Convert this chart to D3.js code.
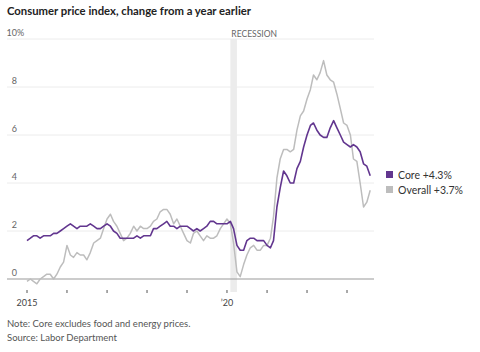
<!DOCTYPE html>
<html>
<head>
<meta charset="utf-8">
<script src="https://cdn.jsdelivr.net/npm/d3@7"></script>
<style>
  body { margin: 0; background: #fff; }
  svg { display: block; font-family: Lato, "Noto Sans", sans-serif; }
</style>
</head>
<body>
<svg id="chart" width="480" height="352"></svg>
<script>
// monthly, Jan 2015 .. Aug 2023 (year-over-year % change)
const startMonth = new Date(2015, 0, 1);

const overall = [
  -0.1, 0.0, -0.1, -0.2, 0.0, 0.1, 0.2, 0.2, 0.0, 0.2, 0.5, 0.7,
  1.4, 1.0, 0.9, 1.1, 1.0, 1.0, 0.8, 1.1, 1.5, 1.6, 1.7, 2.1,
  2.5, 2.7, 2.4, 2.2, 1.9, 1.6, 1.7, 1.9, 2.2, 2.0, 2.2, 2.1,
  2.1, 2.2, 2.4, 2.5, 2.8, 2.9, 2.9, 2.7, 2.3, 2.5, 2.2, 1.9,
  1.6, 1.5, 1.9, 2.0, 1.8, 1.6, 1.8, 1.7, 1.7, 1.8, 2.1, 2.3,
  2.5, 2.3, 1.5, 0.3, 0.1, 0.6, 1.0, 1.3, 1.4, 1.2, 1.2, 1.4,
  1.4, 1.7, 2.6, 4.2, 5.0, 5.4, 5.4, 5.3, 5.4, 6.2, 6.8, 7.0,
  7.5, 7.9, 8.5, 8.3, 8.6, 9.1, 8.5, 8.3, 8.2, 7.7, 7.1, 6.5,
  6.4, 6.0, 5.0, 4.9, 4.0, 3.0, 3.2, 3.7
];

const core = [
  1.6, 1.7, 1.8, 1.8, 1.7, 1.8, 1.8, 1.8, 1.9, 1.9, 2.0, 2.1,
  2.2, 2.3, 2.2, 2.1, 2.2, 2.2, 2.2, 2.3, 2.2, 2.1, 2.1, 2.2,
  2.3, 2.2, 2.0, 1.9, 1.7, 1.7, 1.7, 1.7, 1.7, 1.8, 1.7, 1.8,
  1.8, 1.8, 2.1, 2.1, 2.2, 2.3, 2.4, 2.2, 2.2, 2.1, 2.2, 2.2,
  2.2, 2.1, 2.0, 2.1, 2.0, 2.1, 2.2, 2.4, 2.4, 2.3, 2.3, 2.3,
  2.3, 2.4, 2.1, 1.4, 1.2, 1.2, 1.6, 1.7, 1.7, 1.6, 1.6, 1.6,
  1.4, 1.3, 1.6, 3.0, 3.8, 4.5, 4.3, 4.0, 4.0, 4.6, 4.9, 5.5,
  6.0, 6.4, 6.5, 6.2, 6.0, 5.9, 5.9, 6.3, 6.6, 6.3, 6.0, 5.7,
  5.6, 5.5, 5.6, 5.5, 5.3, 4.8, 4.7, 4.3
];

const yTicks = [0, 2, 4, 6, 8, 10];
const xTickYears = [2015, 2016, 2017, 2018, 2019, 2020, 2021, 2022, 2023];
const xTickLabels = { 2015: '2015', 2020: '\u201920' };
const recession = [new Date(2020, 1, 1), new Date(2020, 3, 1)];
const legendItems = [
  { name: 'Core +4.3%', color: '#62368f' },
  { name: 'Overall +3.7%', color: '#bdbdbd' }
];

const svg = d3.select('#chart');

const x = d3.scaleTime()
  .domain([new Date(2015, 0, 1), new Date(2023, 0, 1)])
  .range([27, 347]);
const y = d3.scaleLinear().domain([0, 10]).range([279, 39]);

const months = overall.map((_, i) => d3.timeMonth.offset(startMonth, i));

// title
svg.append('text')
  .attr('x', 7).attr('y', 15)
  .attr('font-size', 11.3).attr('font-weight', 700).attr('fill', '#222')
  .text('Consumer price index, change from a year earlier');

// recession band
svg.append('rect')
  .attr('x', x(recession[0]))
  .attr('y', y(10))
  .attr('width', x(recession[1]) - x(recession[0]))
  .attr('height', 292 - y(10))
  .attr('fill', '#ececec');

svg.append('text')
  .attr('x', x(recession[0]) + 1).attr('y', 37)
  .attr('font-size', 8.5).attr('fill', '#666')
  .text('RECESSION');

// gridlines
svg.append('g')
  .selectAll('line')
  .data(yTicks)
  .join('line')
  .attr('x1', 7).attr('x2', 374)
  .attr('y1', (d) => y(d)).attr('y2', (d) => y(d))
  .attr('stroke', (d) => (d === 0 ? '#9a9a9a' : '#ececec'))
  .attr('stroke-width', (d) => (d === 0 ? 1.2 : 1));

svg.append('g')
  .selectAll('text')
  .data(yTicks)
  .join('text')
  .attr('x', 17).attr('y', (d) => y(d) - 3)
  .attr('text-anchor', 'end')
  .attr('font-size', 9).attr('fill', '#666')
  .text((d) => d);
svg.append('text')
  .attr('x', 17).attr('y', y(10) - 3)
  .attr('font-size', 9).attr('fill', '#666')
  .text('%');

// x ticks
const xt = svg.append('g');
xt.selectAll('line')
  .data(xTickYears)
  .join('line')
  .attr('x1', (d) => x(new Date(d, 0, 1)))
  .attr('x2', (d) => x(new Date(d, 0, 1)))
  .attr('y1', 290).attr('y2', 293)
  .attr('stroke', '#555');
xt.selectAll('text')
  .data(xTickYears.filter((d) => xTickLabels[d]))
  .join('text')
  .attr('x', (d) => x(new Date(d, 0, 1)))
  .attr('y', 306)
  .attr('text-anchor', 'middle')
  .attr('font-size', 9).attr('fill', '#444')
  .text((d) => xTickLabels[d]);

// lines
const line = d3.line()
  .x((d, i) => x(months[i]))
  .y((d) => y(d));

svg.append('path')
  .attr('d', line(overall))
  .attr('fill', 'none')
  .attr('stroke', legendItems[1].color)
  .attr('stroke-width', 1.5)
  .attr('stroke-linejoin', 'round');

svg.append('path')
  .attr('d', line(core))
  .attr('fill', 'none')
  .attr('stroke', legendItems[0].color)
  .attr('stroke-width', 1.6)
  .attr('stroke-linejoin', 'round');

// legend
const lg = svg.append('g')
  .selectAll('g')
  .data(legendItems)
  .join('g')
  .attr('transform', (d, i) => `translate(386,${171 + i * 15})`);
lg.append('rect')
  .attr('width', 7).attr('height', 7)
  .attr('fill', (d) => d.color);
lg.append('text')
  .attr('x', 12).attr('y', 7.5)
  .attr('font-size', 10.5).attr('fill', '#333')
  .text((d) => d.name);

// footnotes
svg.append('text')
  .attr('x', 7).attr('y', 327)
  .attr('font-size', 9.5).attr('fill', '#555')
  .text('Note: Core excludes food and energy prices.');
svg.append('text')
  .attr('x', 7).attr('y', 341)
  .attr('font-size', 9.5).attr('fill', '#555')
  .text('Source: Labor Department');
</script>
</body>
</html>
